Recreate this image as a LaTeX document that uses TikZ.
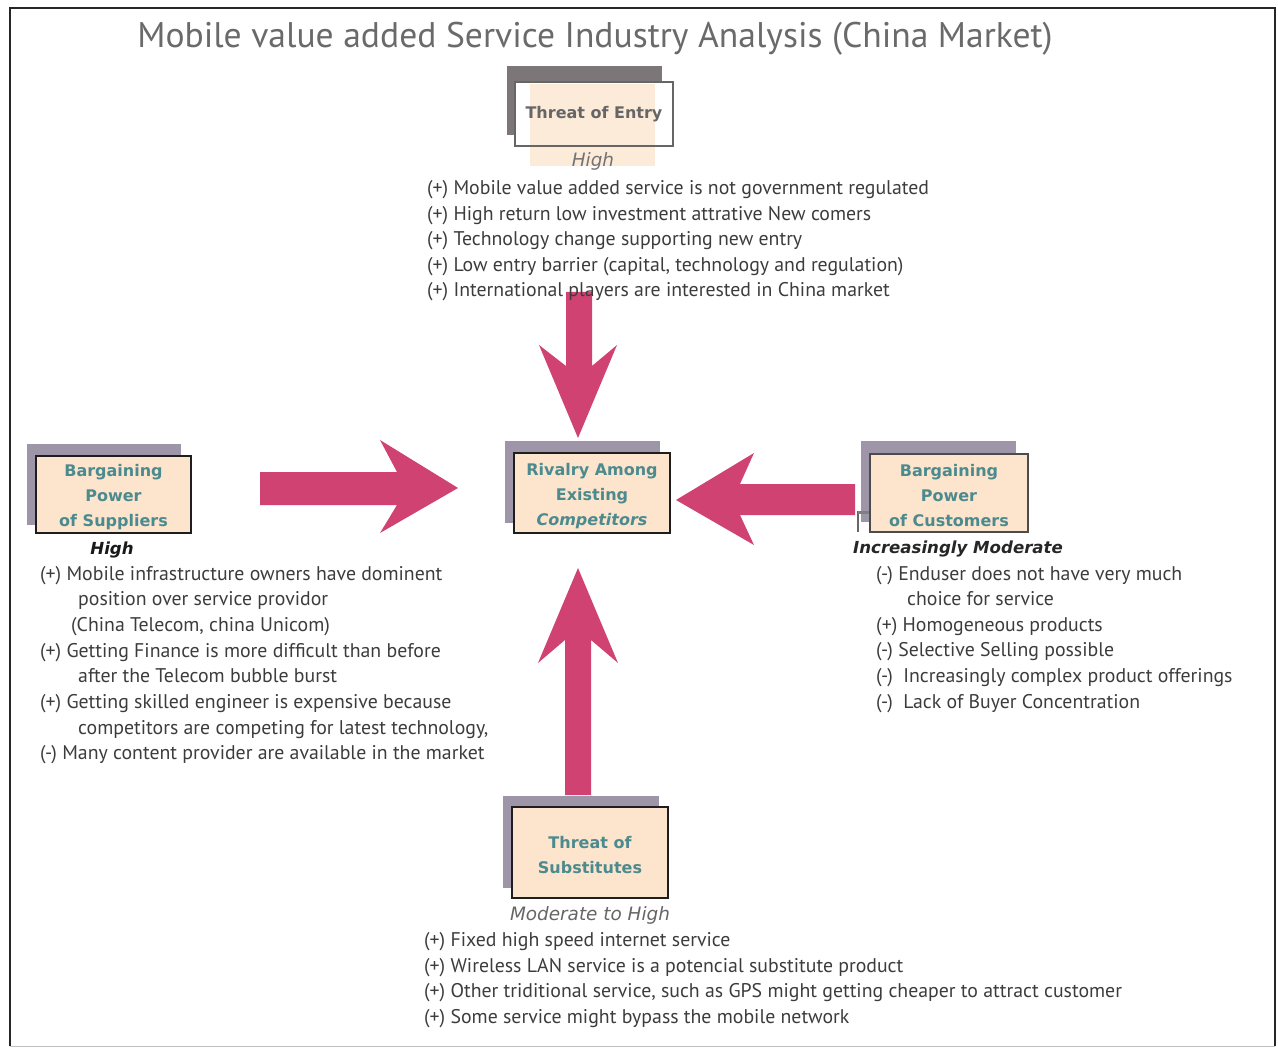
\documentclass[tikz,border=0pt]{standalone}
\usepackage{fontspec}
\setmainfont{PT Sans}
\newfontfamily\boxfont{DejaVu Sans}
\newfontfamily\tagfont{DejaVu Sans}
\definecolor{force}{HTML}{CF4272}
\definecolor{lilac}{HTML}{9E95A8}
\definecolor{slate}{HTML}{7C7678}
\definecolor{peach}{HTML}{FDE4CC}
\definecolor{teal}{HTML}{4B8A8E}
\definecolor{ink}{HTML}{3C3C3C}
\definecolor{titlegray}{HTML}{6A6A6A}
\definecolor{boxline}{HTML}{1E1E1E}
% taller first line, so a box's text sits a little low
\newcommand{\toplift}{\rule{0pt}{17.5pt}}
\begin{document}
\begin{tikzpicture}[x=1pt,y=-1pt,
  forcebox/.style={draw=boxline, line width=2pt, fill=peach, inner sep=0pt,
    align=center, text=teal, font=\boxfont\bfseries\fontsize{16}{25}\selectfont},
  backdrop/.style={fill=lilac},
  push/.style={fill=force},
  item/.style={anchor=base west, inner sep=0pt, text=ink,
    font=\fontsize{19.8}{22}\selectfont},
  level/.style={anchor=base, inner sep=0pt,
    font=\tagfont\itshape\fontsize{18.4}{20}\selectfont},
  strong level/.style={level,
    font=\tagfont\bfseries\itshape\fontsize{16.6}{20}\selectfont}]
\useasboundingbox (0,0) rectangle (1278,1051);

% outer frame
\draw[line width=2pt, black!85] (10,1046) -- (10,8) -- (1275,8) -- (1275,1046);
\draw[black!25, line width=0.8pt] (10,1046) -- (1275,1046);

% title
\node[anchor=base, inner sep=0pt, text=titlegray,
  font=\fontsize{35.6}{40}\selectfont] (title) at (595,48)
  {Mobile value added Service Industry Analysis (China Market)};

% block arrows pointing at the centre box
\fill[push] (566,292) -- (592,292) -- (592,366) -- (617,345) -- (578,438)
  -- (539,345) -- (566,366) -- cycle;
\fill[push] (260,472) -- (397,472) -- (380,440) -- (458,488) -- (380,533)
  -- (397,505) -- (260,505) -- cycle;
\fill[push] (855,484) -- (740,484) -- (754,453) -- (676,500) -- (754,545)
  -- (740,515) -- (855,515) -- cycle;
\fill[push] (565,795) -- (565,640) -- (538,663) -- (578,568) -- (618,663)
  -- (591,640) -- (591,795) -- cycle;

% threat of entry
\fill[slate] (507,66) rectangle (662,135);
\fill[white] (515,82) rectangle (673,146);
\fill[peach!75] (530,84) rectangle (655,166);
\node[draw=black!60, line width=2pt, inner sep=0pt, minimum width=158pt,
  minimum height=64pt, text=black!60,
  font=\boxfont\bfseries\fontsize{16}{18}\selectfont] (entry) at (594,114)
  {Threat of Entry};
\node[level, text=black!55] (entrylvl) at (593,167) {High};
\foreach \t [count=\i] in {
  {(+) Mobile value added service is not government regulated},
  {(+) High return low investment attrative New comers},
  {(+) Technology change supporting new entry},
  {(+) Low entry barrier (capital, technology and regulation)},
  {(+) International players are interested in China market}}
  \node[item] (ent\i) at (427,{194.5+25.6*(\i-1)}) {\t};

% suppliers
\fill[backdrop] (27,444) rectangle (181,525);
\node[forcebox, minimum width=155pt, minimum height=77pt] (sup) at (113.5,494.5)
  {\toplift Bargaining\\Power\\of Suppliers};
\node[strong level, text=black!90] (suplvl) at (112,554) {High};
\foreach \t [count=\i] in {
  {(+) Mobile infrastructure owners have dominent},
  {\hspace*{38pt}position over service providor},
  {\hspace*{31pt}(China Telecom, china Unicom)},
  {(+) Getting Finance is more difficult than before},
  {\hspace*{38pt}after the Telecom bubble burst},
  {(+) Getting skilled engineer is expensive because},
  {\hspace*{38pt}competitors are competing for latest technology,},
  {(-) Many content provider are available in the market}}
  \node[item] (sup\i) at (40,{580+25.7*(\i-1)}) {\t};

% rivalry
\fill[backdrop] (505,441) rectangle (660,523);
\node[forcebox, minimum width=156pt, minimum height=80pt] (riv) at (592,493)
  {\toplift Rivalry Among\\Existing\\\textit{Competitors}};

% customers
\fill[backdrop] (861,441) rectangle (1016,522);
\draw[black!60, line width=1.5pt] (858,511) -- (858,532);
\draw[black!50, line width=3pt] (858,512) -- (870,512);
\node[forcebox, draw=black!70, minimum width=158pt, minimum height=78pt] (cus)
  at (949,493) {\toplift Bargaining\\Power\\of Customers};
\node[strong level, text=black!85] (cuslvl) at (958,553) {Increasingly Moderate};
\foreach \t [count=\i] in {
  {(-) Enduser does not have very much},
  {\hspace*{31pt}choice for service},
  {(+) Homogeneous products},
  {(-) Selective Selling possible},
  {(-)\hspace*{5pt} Increasingly complex product offerings},
  {(-)\hspace*{5pt} Lack of Buyer Concentration}}
  \node[item] (cus\i) at (876,{580+25.6*(\i-1)}) {\t};

% substitutes
\fill[backdrop] (503,796) rectangle (659,888);
\node[forcebox, minimum width=156pt, minimum height=91pt] (sub) at (590,852.5)
  {\toplift Threat of\\Substitutes};
\node[level, text=black!60] (sublvl) at (590,920) {Moderate to High};
\foreach \t [count=\i] in {
  {(+) Fixed high speed internet service},
  {(+) Wireless LAN service is a potencial substitute product},
  {(+) Other triditional service, such as GPS might getting cheaper to attract customer},
  {(+) Some service might bypass the mobile network}}
  \node[item] (subl\i) at (424,{946.5+25.7*(\i-1)}) {\t};
\end{tikzpicture}
\end{document}
